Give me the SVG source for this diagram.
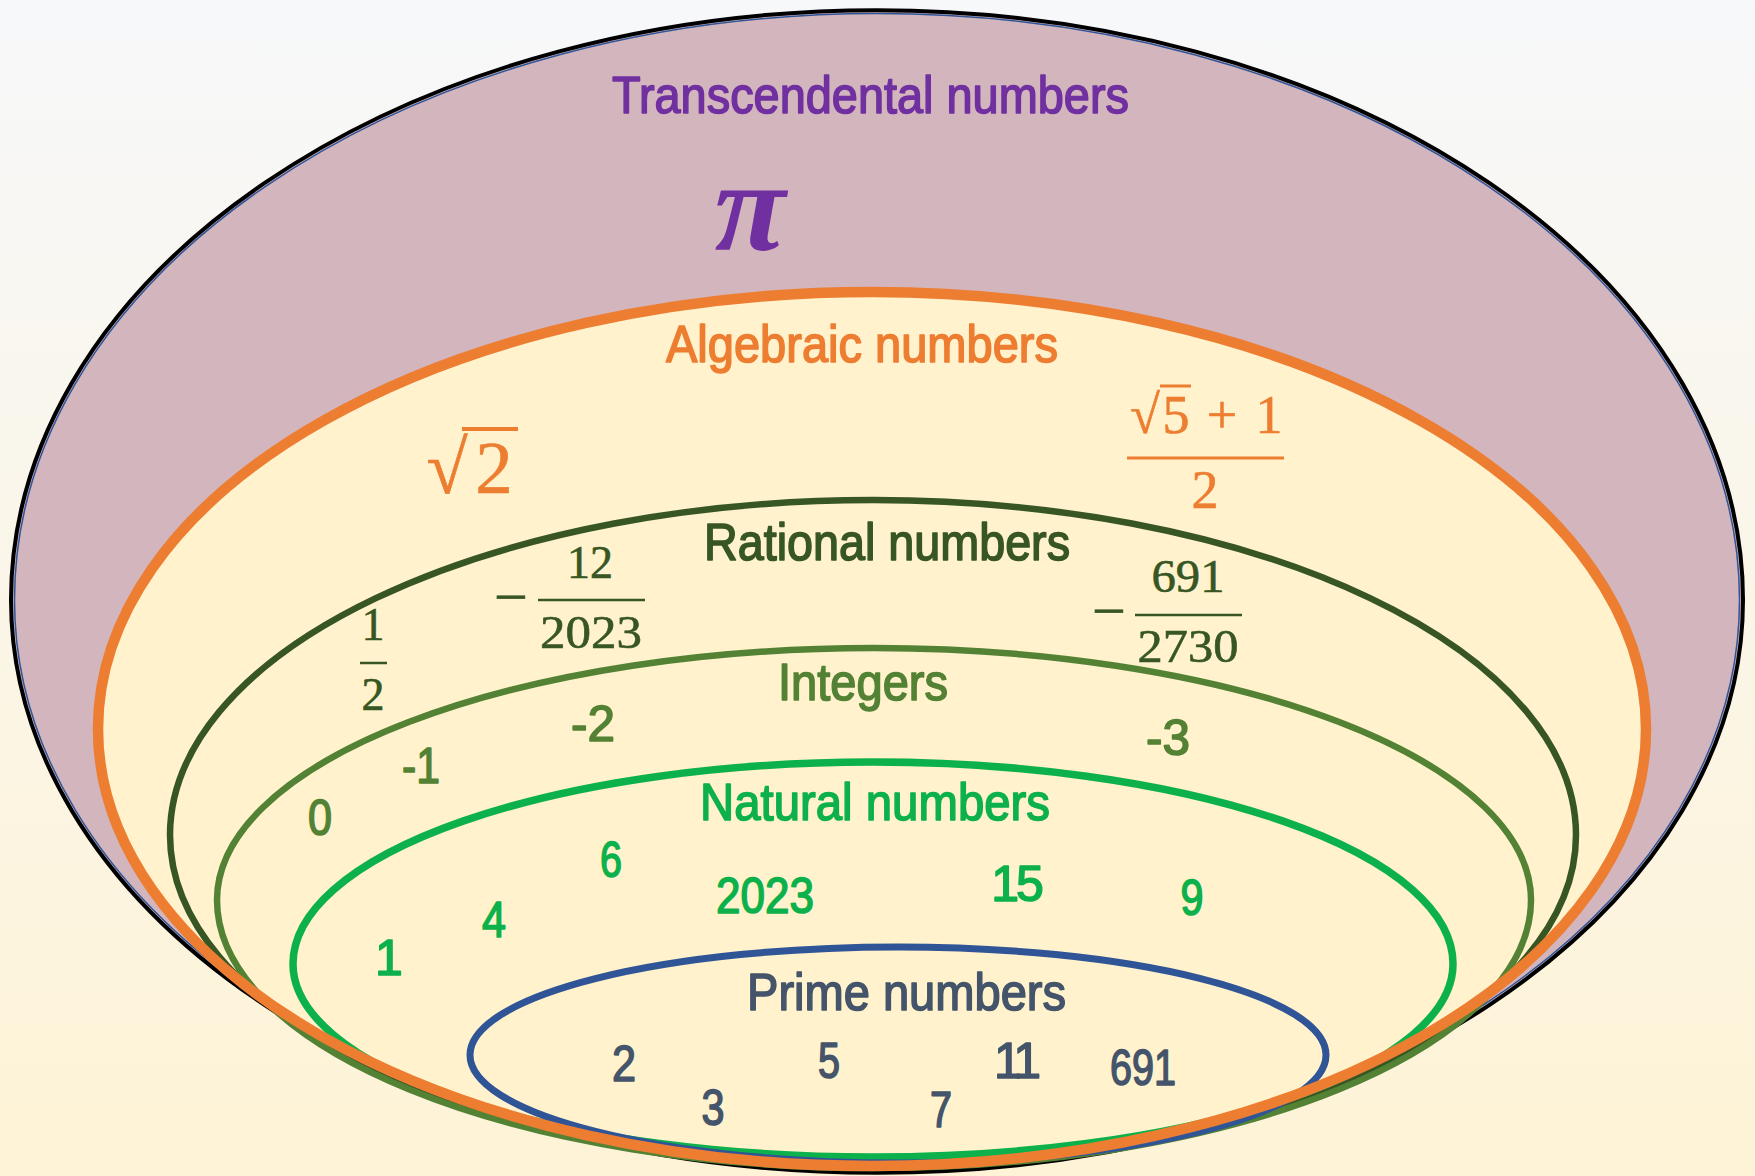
<svg xmlns="http://www.w3.org/2000/svg" xmlns:xlink="http://www.w3.org/1999/xlink" width="1755" height="1176" viewBox="0 0 1755 1176">
<defs>
<linearGradient id="bg" x1="0" y1="0" x2="0" y2="1">
<stop offset="0" stop-color="#F7F8FA"/>
<stop offset="1" stop-color="#FEF3D6"/>
</linearGradient>
<ellipse id="alg-shape" cx="872" cy="729" rx="774" ry="437"/>
</defs>
<style>
.lbl{font-family:"Liberation Sans",Arial,sans-serif;font-size:52px;stroke-width:1.6px;stroke-linejoin:round;}
.num{font-family:"Liberation Sans",Arial,sans-serif;font-size:50px;text-anchor:middle;stroke-width:1.6px;stroke-linejoin:round;}
.math{font-family:"Liberation Serif","Times New Roman",serif;text-anchor:middle;stroke-width:0.6px;}
.ring{fill:none;}
</style>
<rect width="1755" height="1176" fill="url(#bg)"/>

<g id="transcendental">
<path d="M11,600 A866,590 0 0 1 1743,600 A866,573 0 0 1 11,600 Z" fill="#D3B5BD" stroke="#000" stroke-width="4"/>
<path d="M14.5,600 A862.5,586.5 0 0 1 1739.5,600 A862.5,569.5 0 0 1 14.5,600 Z" fill="none" stroke="#2F5597" stroke-width="1.5"/>
<text class="lbl" x="612" y="113" fill="#7030A0" stroke="#7030A0" textLength="517" lengthAdjust="spacingAndGlyphs">Transcendental numbers</text>
<text class="math" x="750" y="250" font-size="130" font-style="italic" font-weight="bold" fill="#7030A0">π</text>
</g>

<g id="algebraic">
<use xlink:href="#alg-shape" fill="#FFF2CC"/>
<text class="lbl" x="666" y="362" fill="#ED7D31" stroke="#ED7D31" textLength="392" lengthAdjust="spacingAndGlyphs">Algebraic numbers</text>
<g fill="#ED7D31" stroke="#ED7D31">
<text class="math" x="447" y="493" font-size="75">√</text>
<text class="math" x="494" y="493" font-size="75">2</text>
<line x1="462" y1="429" x2="518" y2="429" stroke-width="4"/>
<text class="math" x="1145" y="433" font-size="54">√</text>
<line x1="1160" y1="386" x2="1191" y2="386" stroke-width="3"/>
<text class="math" x="1176" y="433" font-size="54">5</text>
<text class="math" x="1222" y="433" font-size="54">+</text>
<text class="math" x="1269" y="433" font-size="54">1</text>
<line x1="1127" y1="458" x2="1284" y2="458" stroke-width="3"/>
<text class="math" x="1205" y="508" font-size="54">2</text>
</g>
</g>

<g id="rational">
<path class="ring" d="M170,835 A703,335 0 0 1 1576,835 A703,331 0 0 1 170,835 Z" stroke="#375623" stroke-width="6.5"/>
<text class="lbl" x="704" y="560" fill="#375623" stroke="#375623" textLength="366" lengthAdjust="spacingAndGlyphs">Rational numbers</text>
<g fill="#375623" stroke="#375623">
<text class="math" x="373" y="640" font-size="46">1</text>
<line x1="360" y1="663" x2="387" y2="663" stroke-width="2.5"/>
<text class="math" x="373" y="710" font-size="46">2</text>
<text class="math" x="511" y="617" font-size="60">−</text>
<text class="math" x="590" y="578" font-size="46" textLength="46" lengthAdjust="spacingAndGlyphs">12</text>
<line x1="538" y1="600" x2="645" y2="600" stroke-width="2.5"/>
<text class="math" x="591" y="648" font-size="46" textLength="102" lengthAdjust="spacingAndGlyphs">2023</text>
<text class="math" x="1109" y="631" font-size="60">−</text>
<text class="math" x="1188" y="592" font-size="46" textLength="73" lengthAdjust="spacingAndGlyphs">691</text>
<line x1="1135" y1="615" x2="1242" y2="615" stroke-width="2.5"/>
<text class="math" x="1188" y="662" font-size="46" textLength="101" lengthAdjust="spacingAndGlyphs">2730</text>
</g>
</g>

<g id="integers">
<path class="ring" d="M217,900 A657,252 0 0 1 1531,900 A657,268 0 0 1 217,900 Z" stroke="#548235" stroke-width="6.5"/>
<text class="lbl" x="778" y="700" fill="#548235" stroke="#548235" textLength="170" lengthAdjust="spacingAndGlyphs">Integers</text>
<g fill="#548235" stroke="#548235">
<text class="num" x="320" y="835" textLength="24" lengthAdjust="spacingAndGlyphs">0</text>
<text class="num" x="421" y="783" textLength="38" lengthAdjust="spacingAndGlyphs">-1</text>
<text class="num" x="593" y="741" textLength="44" lengthAdjust="spacingAndGlyphs">-2</text>
<text class="num" x="1168" y="755" textLength="44" lengthAdjust="spacingAndGlyphs">-3</text>
</g>
</g>

<g id="natural">
<path class="ring" d="M293,964 A580,202 0 0 1 1453,964 A580,193 0 0 1 293,964 Z" stroke="#0DB14B" stroke-width="7.5"/>
<text class="lbl" x="700" y="820" fill="#0DB14B" stroke="#0DB14B" textLength="350" lengthAdjust="spacingAndGlyphs">Natural numbers</text>
<g fill="#0DB14B" stroke="#0DB14B">
<text class="num" x="389" y="975">1</text>
<text class="num" x="494" y="937" textLength="24" lengthAdjust="spacingAndGlyphs">4</text>
<text class="num" x="611" y="877" textLength="22" lengthAdjust="spacingAndGlyphs">6</text>
<text class="num" x="765" y="913" textLength="98" lengthAdjust="spacingAndGlyphs">2023</text>
<text class="num" x="1016" y="901" letter-spacing="-3">15</text>
<text class="num" x="1192" y="915" textLength="23" lengthAdjust="spacingAndGlyphs">9</text>
</g>
</g>

<g id="prime">
<ellipse class="ring" cx="898" cy="1055" rx="428" ry="108" stroke="#2F5597" stroke-width="7"/>
<text class="lbl" x="747" y="1010" fill="#44546A" stroke="#44546A" textLength="319" lengthAdjust="spacingAndGlyphs">Prime numbers</text>
<g fill="#44546A" stroke="#44546A">
<text class="num" x="624" y="1081" textLength="24" lengthAdjust="spacingAndGlyphs">2</text>
<text class="num" x="713" y="1125" textLength="23" lengthAdjust="spacingAndGlyphs">3</text>
<text class="num" x="829" y="1078" textLength="22" lengthAdjust="spacingAndGlyphs">5</text>
<text class="num" x="941" y="1127" textLength="22" lengthAdjust="spacingAndGlyphs">7</text>
<text class="num" x="1015" y="1078" letter-spacing="-5">11</text>
<text class="num" x="1143" y="1085" textLength="66" lengthAdjust="spacingAndGlyphs">691</text>
</g>
</g>

<g id="algebraic-outline">
<use xlink:href="#alg-shape" fill="none" stroke="#ED7D31" stroke-width="10.5"/>
</g>
</svg>
